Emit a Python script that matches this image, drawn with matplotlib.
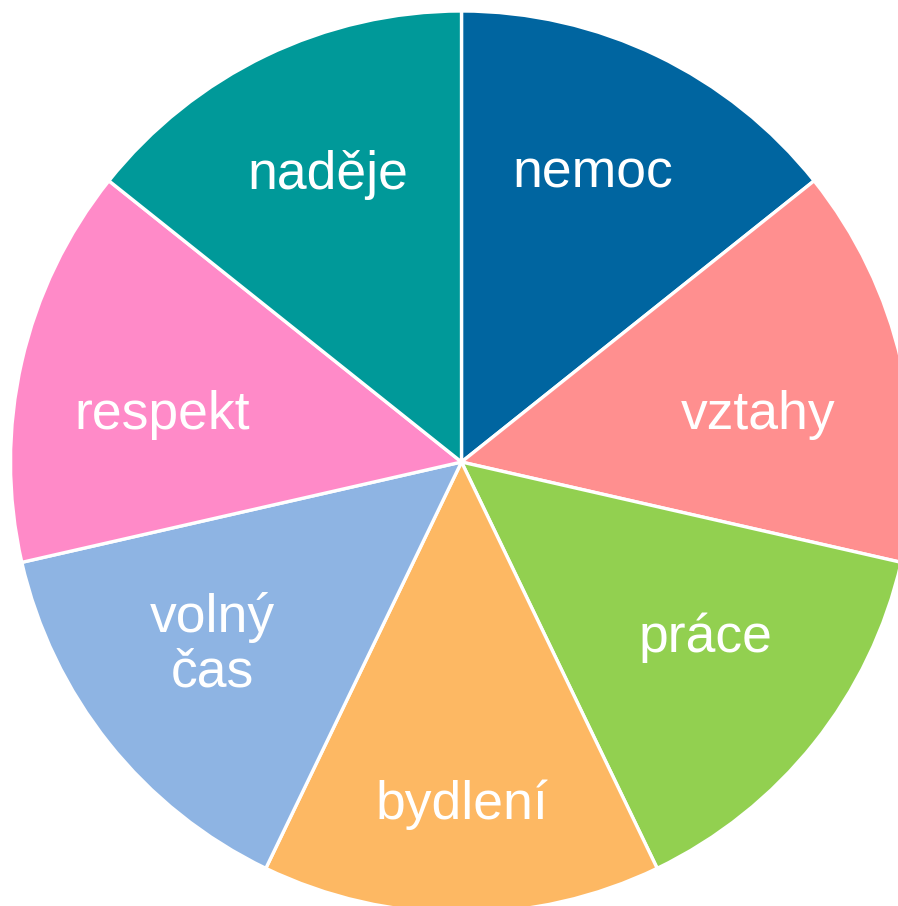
import matplotlib.pyplot as plt

# slices, clockwise from the top
labels = ['nemoc', 'vztahy', 'práce', 'bydlení', 'volný\nčas', 'respekt', 'naděje']
values = [1, 1, 1, 1, 1, 1, 1]
colors = ['#0065A0', '#FF8F8F', '#92D050', '#FDB863', '#8EB4E3', '#FF8AC8', '#009999']

# label placement inside each slice (pie radius = 1)
label_xy = [(0.29, 0.64), (0.657, 0.104), (0.542, -0.39), (0.0, -0.761),
            (-0.553, -0.406), (-0.664, 0.104), (-0.296, 0.636)]

plt.rcParams['font.family'] = ['Liberation Sans', 'DejaVu Sans']

fig = plt.figure(figsize=(8.98, 9.06), dpi=100)
# pie centre ~ (461, 462) px, radius ~451 px
cx, cy, r = 461.5, 906 - 462, 451
ax = fig.add_axes([(cx - r) / 898, (cy - r) / 906, 2 * r / 898, 2 * r / 906])

wedges, texts = ax.pie(values, labels=labels, colors=colors, startangle=90,
                       counterclock=False, labeldistance=0.68,
                       wedgeprops=dict(edgecolor='white', linewidth=2.4),
                       textprops=dict(color='white', fontsize=38.5,
                                      ha='center', va='center', linespacing=1.12))
for t, xy in zip(texts, label_xy):
    t.set_position(xy)

ax.set_xlim(-1, 1)
ax.set_ylim(-1, 1)
ax.set_aspect('equal')
ax.axis('off')

fig.savefig('out.png', dpi=100)
